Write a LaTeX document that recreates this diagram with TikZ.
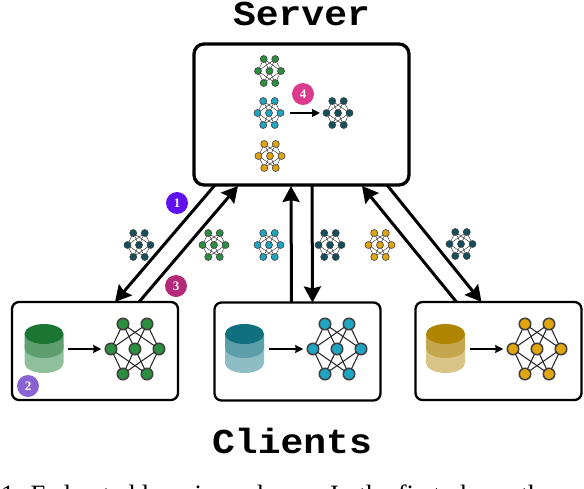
\documentclass[tikz,border=0pt]{standalone}
\usepackage{fontspec}
\setmainfont{Liberation Serif}
\setmonofont[FakeStretch=1.086]{Liberation Mono}
\usetikzlibrary{calc,arrows.meta}

\definecolor{netgreen}{HTML}{2A8F3E}
\definecolor{netblue}{HTML}{1FA5C2}
\definecolor{netgold}{HTML}{E0A50F}
\definecolor{netdark}{HTML}{134F5C}
\definecolor{badgeA}{HTML}{5F11EE}
\definecolor{badgeB}{HTML}{8A63D2}
\definecolor{badgeC}{HTML}{B52A78}
\definecolor{badgeD}{HTML}{DC3A8C}
\definecolor{dbgreenA}{HTML}{1B7533}
\definecolor{dbgreenB}{HTML}{5F9E6F}
\definecolor{dbgreenC}{HTML}{8FBF9B}
\definecolor{dbblueA}{HTML}{11707F}
\definecolor{dbblueB}{HTML}{5C9FA8}
\definecolor{dbblueC}{HTML}{8DBDC5}
\definecolor{dbgoldA}{HTML}{AE8400}
\definecolor{dbgoldB}{HTML}{C4A64E}
\definecolor{dbgoldC}{HTML}{D9C587}

% network: name, centre, colour, scale, outline width
\newcommand{\netw}[5]{
	\begin{scope}[shift={(#2)},scale=#4]
		\foreach \n/\px/\py in {a/-12/-25,b/12/-25,c/-24/0,d/0/0,e/24/0,f/-12/25,g/12/25}
		\node[circle,fill=#3,draw=black!75,line width=#5,inner sep=0pt,outer sep=0pt,minimum size=#4*8.65pt+2.85pt] (#1\n) at (\px,\py) {};
		\foreach \u in {a,b} \foreach \v in {c,d,e}
		\draw[black!85,line width=#5*0.7] (#1\u)--(#1\v);
		\foreach \u in {c,d,e} \foreach \v in {f,g}
		\draw[black!85,line width=#5*0.7] (#1\u)--(#1\v);
	\end{scope}
}
% database stack: name, x, colours
\newcommand{\dbstack}[5]{
	\coordinate (#1) at (#2,349);
	\fill[#5] (#2-19.5,344)--(#2-19.5,363) arc[start angle=180,end angle=0,x radius=19.5,y radius=10]--(#2+19.5,344)--cycle;
	\fill[#4] (#2-19.5,334)--(#2-19.5,348) arc[start angle=180,end angle=0,x radius=19.5,y radius=10]--(#2+19.5,334)--cycle;
	\fill[#3] (#2,334) ellipse[x radius=19.5,y radius=10];
}

\begin{document}
\begin{tikzpicture}[x=1pt,y=-1pt,
	box/.style={draw,line width=2.3pt,rounded corners=7pt,inner sep=0pt,outer sep=0pt,minimum width=166pt,minimum height=98pt},
	flow/.style={-{Stealth[length=16pt,width=17pt,inset=2pt]},line width=3pt},
	data/.style={-{Stealth[length=8pt,width=8pt,inset=0.5pt]},line width=1.3pt},
	badge/.style={circle,inner sep=0pt,minimum size=22pt,text=white,font=\bfseries\fontsize{13}{13}\selectfont},
	title/.style={anchor=base,font=\ttfamily\bfseries\fontsize{35}{35}\selectfont},
	]
	\useasboundingbox (0,0) rectangle (584,488);
	\clip (0,0) rectangle (584,488);
	
	% titles
	\node[title] (srvtitle) at (301.5,25) {Server};
	\node[title] (clttitle) at (292,453) {Clients};
	\node[anchor=base west,inner sep=0pt,font=\fontsize{26.5}{26.5}\selectfont] (caption) at (1,503) {1: Federated learning scheme. In the first phase, the};
	
	% boxes
	\node[box,line width=3.3pt,rounded corners=10pt,minimum width=215pt,minimum height=141pt] (server) at (301.5,114.5) {};
	\node[box] (clientA) at (95,351) {};
	\node[box] (clientB) at (297.5,351.5) {};
	\node[box] (clientC) at (498.5,351) {};
	
	% arrows between server and clients
	\draw[flow] ($(server.south west)+(21,0)$)--($(clientA.north west)+(103,0)$);
	\draw[flow] ($(clientA.north west)+(127,0)$)--($(server.south west)+(44,1)$);
	\draw[flow] ($(clientB.north west)+(77,0)$)--($(server.south west)+(97,1)$);
	\draw[flow] ($(server.south west)+(118,0)$)--($(clientB.north west)+(98,0)$);
	\draw[flow] ($(clientC.north west)+(41,0)$)--($(server.south west)+(168,1)$);
	\draw[flow] ($(server.south west)+(193,0)$)--($(clientC.north west)+(66,0)$);
	
	% networks in the server
	\netw{srvG}{269.5,71}{netgreen}{0.48}{0.6pt}
	\netw{srvB}{269,113}{netblue}{0.48}{0.6pt}
	\netw{srvY}{270,156}{netgold}{0.48}{0.6pt}
	\netw{srvM}{338,113}{netdark}{0.48}{0.6pt}
	\draw[data] ($(srvBe.east)+(5.5,0)$)--($(srvMc.west)+(-3,0)$);
	
	% networks on the way
	\netw{wayA}{139,245}{netdark}{0.48}{0.6pt}
	\netw{wayB}{214,245}{netgreen}{0.48}{0.6pt}
	\netw{wayC}{269,245}{netblue}{0.48}{0.6pt}
	\netw{wayD}{330,245}{netdark}{0.48}{0.6pt}
	\netw{wayE}{380,245}{netgold}{0.48}{0.6pt}
	\netw{wayF}{461,244}{netdark}{0.48}{0.6pt}
	
	% clients
	\dbstack{dbA}{44}{dbgreenA}{dbgreenB}{dbgreenC}
	\dbstack{dbB}{244.5}{dbblueA}{dbblueB}{dbblueC}
	\dbstack{dbC}{445.5}{dbgoldA}{dbgoldB}{dbgoldC}
	\netw{cltA}{135,349}{netgreen}{1}{1.5pt}
	\netw{cltB}{337,349}{netblue}{1}{1.5pt}
	\netw{cltC}{537,349}{netgold}{1}{1.5pt}
	\draw[data] ($(dbA)+(24,0)$)--($(cltAc.west)+(-4,0)$);
	\draw[data] ($(dbB)+(24.5,0)$)--($(cltBc.west)+(-4,0)$);
	\draw[data] ($(dbC)+(24.5,0)$)--($(cltCc.west)+(-4,0)$);
	
	% step badges
	\node[badge,fill=badgeA] (stepA) at (177,203) {1};
	\node[badge,fill=badgeB] (stepB) at (28,386) {2};
	\node[badge,fill=badgeC] (stepC) at (176,286) {3};
	\node[badge,fill=badgeD] (stepD) at (303,94) {4};
\end{tikzpicture}
\end{document}
